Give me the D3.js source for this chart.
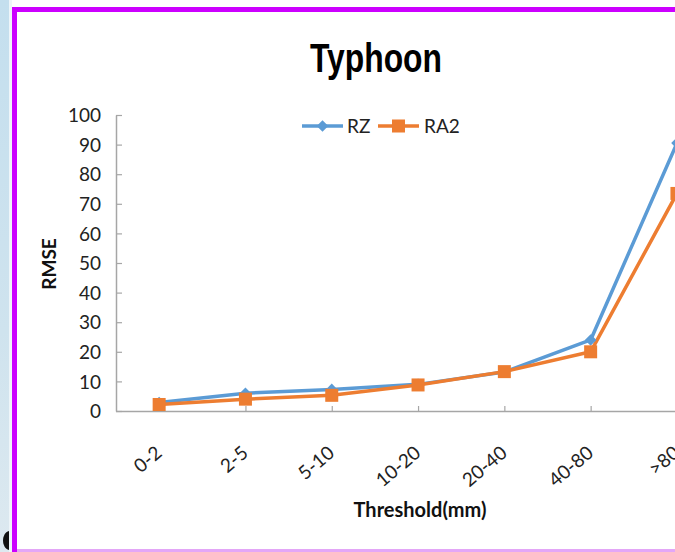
<!DOCTYPE html>
<html>
<head>
<meta charset="utf-8">
<script src="https://cdn.jsdelivr.net/npm/d3@7"></script>
<style>
  html, body { margin: 0; padding: 0; background: #fff; overflow: hidden; }
  svg { display: block; }
</style>
</head>
<body>
<svg id="chart" width="675" height="552"></svg>
<script>
// Rainfall thresholds and RMSE per method
const categories = ["0-2", "2-5", "5-10", "10-20", "20-40", "40-80", ">80"];
const rzValues  = [2.9, 6.0, 7.3, 9.0, 13.2, 24.0, 90.5];
const ra2Values = [2.2, 4.0, 5.3, 8.8, 13.3, 20.0, 73.5];
const yTicks = [0, 10, 20, 30, 40, 50, 60, 70, 80, 90, 100];
const seriesNames = ["RZ", "RA2"];

const svg = d3.select("#chart");
const W = 675, H = 552;

// backdrop: pale blue strip on the left, magenta frame around the chart card
const defs = svg.append("defs");
const grad = defs.append("linearGradient").attr("id", "strip").attr("x1", 0).attr("y1", 0).attr("x2", 0).attr("y2", 1);
grad.append("stop").attr("offset", "0%").attr("stop-color", "#c4dfee");
grad.append("stop").attr("offset", "60%").attr("stop-color", "#cfe3ee");
grad.append("stop").attr("offset", "100%").attr("stop-color", "#dde9f0");
svg.append("rect").attr("x", 0).attr("y", 0).attr("width", 9).attr("height", H).attr("fill", "url(#strip)");
svg.append("rect").attr("x", 9).attr("y", 0).attr("width", 3).attr("height", H).attr("fill", "#eef5f9");

// dark half-disc at the lower left edge
svg.append("path")
  .attr("d", "M9,531 C1,533 1,548 9,550 Z")
  .attr("fill", "#111");

// frame
svg.append("rect").attr("x", 12).attr("y", 7).attr("width", W).attr("height", 5).attr("fill", "#cc00ff");
svg.append("rect").attr("x", 12).attr("y", 7).attr("width", 5).attr("height", H).attr("fill", "#cc00ff");
svg.append("rect").attr("x", 17).attr("y", 549).attr("width", W).attr("height", 3).attr("fill", "#e3a6f7");

// plot geometry
const x0 = 116, y0 = 411, yTop = 115;
const step = 86.3;
const x = d3.scalePoint().domain(categories).range([x0, x0 + step * categories.length]).padding(0.5);
const y = d3.scaleLinear().domain([0, 100]).range([y0, yTop]);

const axisColor = "#a6a6a6";
const tickFont = "Lato, 'Open Sans', sans-serif";

// y axis: ticks point into the plot
const yAxis = d3.axisLeft(y).tickValues(yTicks).tickSizeInner(-6).tickSizeOuter(0).tickPadding(15);
const gy = svg.append("g").attr("transform", `translate(${x0},0)`).call(yAxis);
gy.select(".domain").attr("stroke", axisColor).attr("stroke-width", 1.5);
gy.selectAll(".tick line").attr("stroke", axisColor).attr("stroke-width", 1.2);
gy.selectAll(".tick text")
  .attr("fill", "#222").attr("font-family", tickFont).attr("font-size", 19)
  .attr("dy", "0.35em");

// x axis: ticks at each threshold, pointing up
const xAxis = d3.axisBottom(x).tickSizeInner(-5).tickSizeOuter(0).tickFormat("");
const gx = svg.append("g").attr("transform", `translate(0,${y0})`).call(xAxis);
gx.select(".domain").attr("stroke", axisColor).attr("stroke-width", 1.5)
  .attr("d", `M${x0},0.5H${W + 10}`);
gx.selectAll(".tick line").attr("stroke", axisColor).attr("stroke-width", 1.2);

// slanted threshold labels (the last one runs past the right edge)
svg.append("g").selectAll("text").data(categories).join("text")
  .attr("transform", d => `translate(${x(d) + 4},${y0 + 44}) rotate(-40)`)
  .attr("text-anchor", "end")
  .attr("font-family", tickFont).attr("font-size", 19).attr("fill", "#222")
  .text(d => d);

// series lines and markers
const colors = { RZ: "#5b9bd5", RA2: "#ed7d31" };
const series = [
  { name: "RZ", values: rzValues },
  { name: "RA2", values: ra2Values }
];
const line = d3.line().x((d, i) => x(categories[i])).y(d => y(d));

const plot = svg.append("g");
series.forEach(s => {
  plot.append("path")
    .attr("d", line(s.values))
    .attr("fill", "none")
    .attr("stroke", colors[s.name])
    .attr("stroke-width", 3.5)
    .attr("stroke-linejoin", "round");
});
const diamond = d3.symbol(d3.symbolDiamond2 || d3.symbolDiamond, 85)();
// RZ diamonds
plot.append("g").selectAll("path").data(rzValues).join("path")
  .attr("transform", (d, i) => `translate(${x(categories[i])},${y(d)})`)
  .attr("d", diamond)
  .attr("fill", colors.RZ);
// RA2 squares
plot.append("g").selectAll("rect").data(ra2Values).join("rect")
  .attr("x", (d, i) => x(categories[i]) - 6.5)
  .attr("y", d => y(d) - 6.5)
  .attr("width", 13).attr("height", 13)
  .attr("fill", colors.RA2);

// title
svg.append("text")
  .attr("x", 376).attr("y", 72)
  .attr("text-anchor", "middle")
  .attr("font-family", "'Liberation Sans', Arial, sans-serif")
  .attr("font-weight", "bold").attr("font-size", 40)
  .attr("textLength", 132).attr("lengthAdjust", "spacingAndGlyphs")
  .attr("fill", "#000")
  .text("Typhoon");

// axis titles
svg.append("text")
  .attr("transform", "translate(56,264) rotate(-90)")
  .attr("text-anchor", "middle")
  .attr("font-family", tickFont).attr("font-weight", "bold").attr("font-size", 19)
  .attr("fill", "#111")
  .text("RMSE");
svg.append("text")
  .attr("x", 420).attr("y", 517)
  .attr("text-anchor", "middle")
  .attr("font-family", tickFont).attr("font-weight", "bold").attr("font-size", 20)
  .attr("fill", "#111")
  .text("Threshold(mm)");

// legend
const legend = svg.append("g");
const legendItems = [
  { name: seriesNames[0], x: 302, textX: 347 },
  { name: seriesNames[1], x: 378, textX: 424 }
];
legendItems.forEach(it => {
  const ly = 126;
  legend.append("line")
    .attr("x1", it.x).attr("x2", it.x + 41).attr("y1", ly).attr("y2", ly)
    .attr("stroke", colors[it.name]).attr("stroke-width", 3.5);
  if (it.name === "RZ") {
    legend.append("path")
      .attr("transform", `translate(${it.x + 20.5},${ly})`)
      .attr("d", diamond)
      .attr("fill", colors[it.name]);
  } else {
    legend.append("rect")
      .attr("x", it.x + 14).attr("y", ly - 6.5).attr("width", 13).attr("height", 13)
      .attr("fill", colors[it.name]);
  }
  legend.append("text")
    .attr("x", it.textX).attr("y", ly).attr("dy", "0.35em")
    .attr("font-family", tickFont).attr("font-size", 19).attr("fill", "#222")
    .text(it.name);
});
</script>
</body>
</html>
